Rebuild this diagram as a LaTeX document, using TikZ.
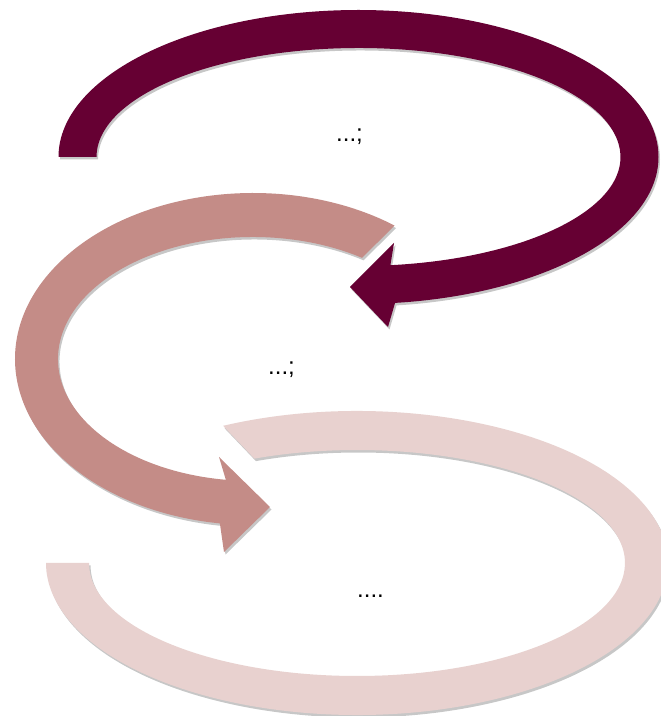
\documentclass[tikz,border=0pt]{standalone}
\usepackage{fontspec}
\setmainfont{Liberation Sans}
\usetikzlibrary{shadows,calc}
\definecolor{darkarrow}{HTML}{660033}
\definecolor{midarrow}{HTML}{C48C87}
\definecolor{lightarrow}{HTML}{E8D1CF}
\tikzset{
  band/.style={draw=none, drop shadow={shadow xshift=1.5pt, shadow yshift=-2.5pt, opacity=0.22, fill=black}},
  lbl/.style={anchor=base west, inner sep=0pt, font=\fontsize{24}{24}\selectfont}
}
\begin{document}
\begin{tikzpicture}[x=1pt,y=1pt]
\useasboundingbox (0,0) rectangle (661,716);
\clip (0,0) rectangle (661,716);
\fill[white] (0,0) rectangle (661,716);
% arrow 3 (light, no head)
\path[band, fill=lightarrow]
  ($(357,153)+(115.5:311 and 152)$)
  arc[start angle=115.5, end angle=-180, x radius=311, y radius=152]
  -- (89,153)
  arc[start angle=-180, end angle=112.5, x radius=268, y radius=113]
  -- cycle;
% arrow 2 (medium)
\coordinate (h2b) at (224,164);
\coordinate (h2t) at (270,209);
\coordinate (h2a) at (219,259);
\path[band, fill=midarrow]
  ($(253,357)+(53.5:238 and 166)$)
  arc[start angle=53.5, end angle=262, x radius=238, y radius=166]
  -- (h2b) -- (h2t) -- (h2a)
  -- ($(253,357)+(262:195 and 122)$)
  arc[start angle=262, end angle=56, x radius=195, y radius=122]
  -- cycle;
% arrow 1 (dark)
\coordinate (h1b) at (388,389);
\coordinate (h1t) at (350,429);
\coordinate (h1a) at (394,473);
\path[band, fill=darkarrow]
  (58.5,559)
  arc[start angle=180, end angle=-83, x radius=300, y radius=147]
  -- (h1b) -- (h1t) -- (h1a)
  -- ($(358.5,559)+(-83:262 and 109)$)
  arc[start angle=-83, end angle=180, x radius=262, y radius=109]
  -- cycle;
\node[lbl] (t1) at (336,574) {...;};
\node[lbl] (t2) at (268,341) {...;};
\node[lbl] (t3) at (357,118) {....};
\end{tikzpicture}
\end{document}
